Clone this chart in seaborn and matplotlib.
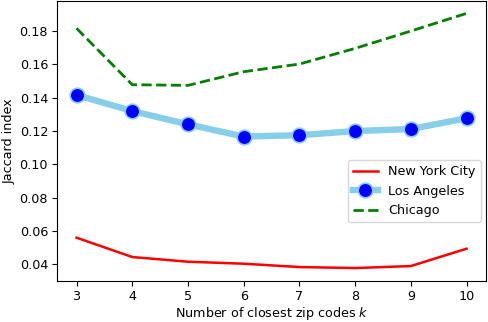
import seaborn as sns
import matplotlib.pyplot as plt
import pandas as pd
import numpy as np

# data
k_values = [3, 4, 5, 6, 7, 8, 9, 10]
nyc = [0.0560, 0.0444, 0.0416, 0.0404, 0.0384, 0.0378, 0.0390, 0.0494]
la = [0.1416, 0.1320, 0.1240, 0.1167, 0.1175, 0.1200, 0.1212, 0.1277]
chicago = [0.1816, 0.1478, 0.1474, 0.1556, 0.1602, 0.1696, 0.1800, 0.1906]

plt.rcParams['font.family'] = ['DejaVu Sans']
fs = 9.2

fig = plt.figure(figsize=(4.88, 3.22), dpi=100)
ax = fig.add_axes([0.117, 0.128, 0.879, 0.870])

sns.lineplot(x=k_values, y=nyc, ax=ax, color='red', linewidth=1.8,
             label='New York City')
sns.lineplot(x=k_values, y=la, ax=ax, color='skyblue', linewidth=4.6,
             marker='o', markersize=10.5, markerfacecolor='blue',
             markeredgecolor='skyblue', markeredgewidth=1.2,
             label='Los Angeles')
sns.lineplot(x=k_values, y=chicago, ax=ax, color='green', linewidth=2,
             linestyle='--', label='Chicago')

ax.set_xticks(k_values)
ax.set_xlabel('Number of closest zip codes $k$', fontsize=fs, labelpad=1.5)
ax.set_ylabel('Jaccard index', fontsize=fs, labelpad=3)
ax.tick_params(labelsize=fs, pad=3)

ax.legend(loc='center right', bbox_to_anchor=(1.0, 0.32), fontsize=fs,
          borderaxespad=0.4)

plt.savefig('out.png', dpi=100)
